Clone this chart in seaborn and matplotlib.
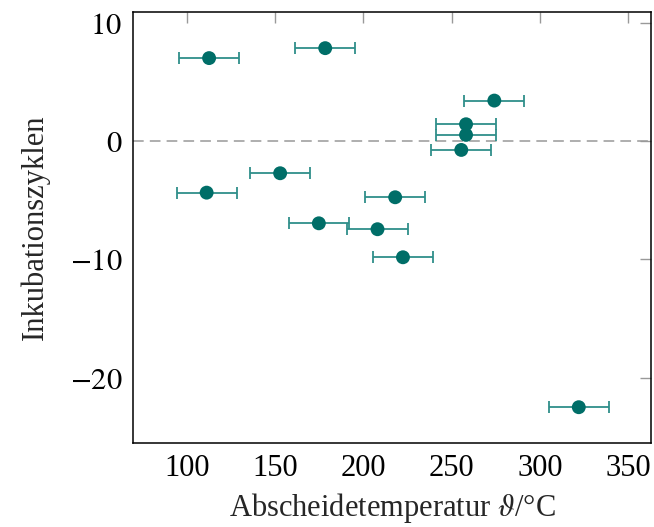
import matplotlib
matplotlib.use("Agg")
import matplotlib.pyplot as plt
import seaborn as sns
import pandas as pd
import numpy as np

# Data
temperature = [112.7, 178.4, 274.1, 258.1, 258.1, 255.4, 152.9, 111.3, 218.0, 174.8, 208.0, 222.4, 321.9]
cycles = [7.0, 7.84, 3.41, 1.41, 0.51, -0.76, -2.73, -4.37, -4.76, -6.96, -7.46, -9.83, -22.5]
temp_err = [17, 17, 17, 17, 17, 17, 17, 17, 17, 17, 17, 17, 17]

x_ticks = [100, 150, 200, 250, 300, 350]
y_ticks = [-20, -10, 0, 10]

df = pd.DataFrame({"T": temperature, "N": cycles, "err": temp_err})

sns.set_theme(style="white")
plt.rcParams["font.family"] = ["Liberation Serif", "DejaVu Serif"]
plt.rcParams["mathtext.fontset"] = "stix"

fig = plt.figure(figsize=(6.54, 5.27), dpi=100)
ax = fig.add_axes([133.3 / 654, 1 - 442.7 / 527, (650.7 - 133.3) / 654, (442.7 - 12.3) / 527])

ax.axhline(0, color="#999999", lw=1.1, ls=(0, (7, 4)), zorder=1)

ax.errorbar(df["T"], df["N"], xerr=df["err"], fmt="none",
            ecolor="#2f8f8a", elinewidth=1.3, capsize=4, capthick=1.3, zorder=2)
sns.scatterplot(data=df, x="T", y="N", ax=ax, color="#006e68", s=100,
                edgecolor="none", zorder=3, legend=False)

ax.set_xlim(69.8, 362.6)
ax.set_ylim(-25.5, 10.87)
ax.set_xticks(x_ticks)
ax.set_yticks(y_ticks)
ax.set_yticklabels([f"${v}$" for v in y_ticks])
ax.tick_params(direction="in", length=8, width=1.0, color="#999999",
               labelsize=22, top=True, right=True, pad=8, labelcolor="black")
for s in ax.spines.values():
    s.set_color("black")
    s.set_linewidth(1.1)
    s.set_visible(True)

ax.set_xlabel(r"Abscheidetemperatur $\vartheta$/°C", fontsize=22, labelpad=6)
ax.set_ylabel("Inkubationszyklen", fontsize=22, labelpad=14)

fig.savefig("out.png", dpi=100)
